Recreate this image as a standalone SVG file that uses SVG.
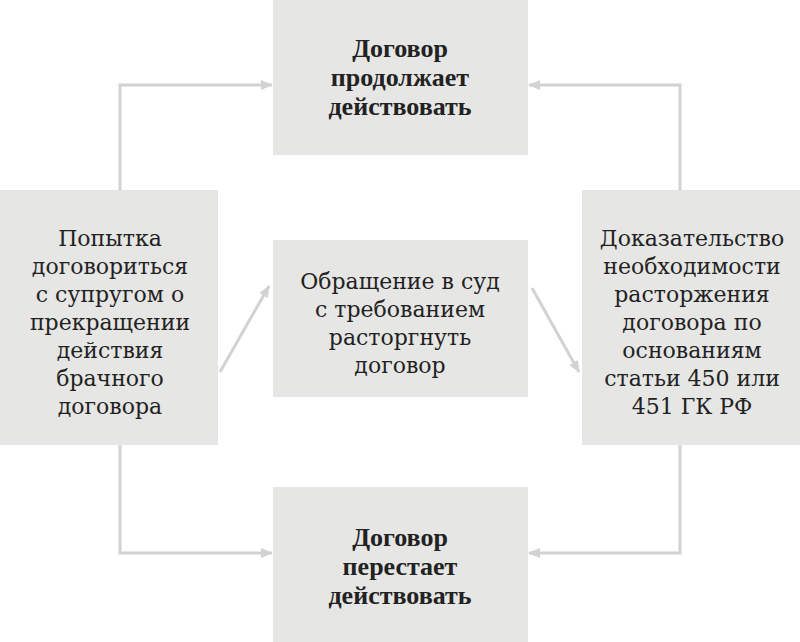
<svg xmlns="http://www.w3.org/2000/svg" width="800" height="642" viewBox="0 0 800 642">
<style>
.box{fill:#e6e6e5}
text{font-family:"Liberation Serif","DejaVu Serif",serif;font-size:26px;fill:#222;text-anchor:middle}
.r{font-family:"DejaVu Serif","Liberation Serif",serif;font-size:22px}
.b{font-weight:bold}
.c{stroke:#d2d2d2;stroke-width:3;fill:none;marker-end:url(#a)}
</style>
<defs><marker id="a" markerWidth="12" markerHeight="10" refX="11" refY="5" orient="auto" markerUnits="userSpaceOnUse" viewBox="0 0 12 10"><path d="M0,0L12,5L0,10z" fill="#d2d2d2"/></marker></defs>
<rect width="800" height="642" fill="#fff"/>
<g id="connectors">
<path class="c" d="M120,190V85H272"/>
<path class="c" d="M680,190V85H529"/>
<path class="c" d="M120,445V553H272"/>
<path class="c" d="M680,445V553H529"/>
<path class="c" d="M220,372L269,286"/>
<path class="c" d="M532,288L579,372"/>
</g>
<g id="top"><rect class="box" x="273" y="0" width="255" height="155"/>
<text class="b" x="400" y="57">Договор</text><text class="b" x="400" y="86">продолжает</text><text class="b" x="400" y="115">действовать</text></g>
<g id="bottom"><rect class="box" x="273" y="487" width="255" height="155"/>
<text class="b" x="400" y="546">Договор</text><text class="b" x="400" y="575">перестает</text><text class="b" x="400" y="604">действовать</text></g>
<g id="left" class="r"><rect class="box" x="0" y="190" width="218" height="255"/>
<text class="r" x="110" y="246">Попытка</text><text class="r" x="110" y="274">договориться</text><text class="r" x="110" y="302">с супругом о</text><text class="r" x="110" y="330">прекращении</text><text class="r" x="110" y="358">действия</text><text class="r" x="110" y="386">брачного</text><text class="r" x="110" y="414">договора</text></g>
<g id="center"><rect class="box" x="273" y="240" width="255" height="157"/>
<text class="r" x="400" y="289">Обращение в суд</text><text class="r" x="400" y="317">с требованием</text><text class="r" x="400" y="345">расторгнуть</text><text class="r" x="400" y="373">договор</text></g>
<g id="right"><rect class="box" x="582" y="190" width="218" height="255"/>
<text class="r" x="692" y="246">Доказательство</text><text class="r" x="692" y="274">необходимости</text><text class="r" x="692" y="302">расторжения</text><text class="r" x="692" y="330">договора по</text><text class="r" x="692" y="358">основаниям</text><text class="r" x="692" y="386">статьи 450 или</text><text class="r" x="692" y="414">451 ГК РФ</text></g>
</svg>
